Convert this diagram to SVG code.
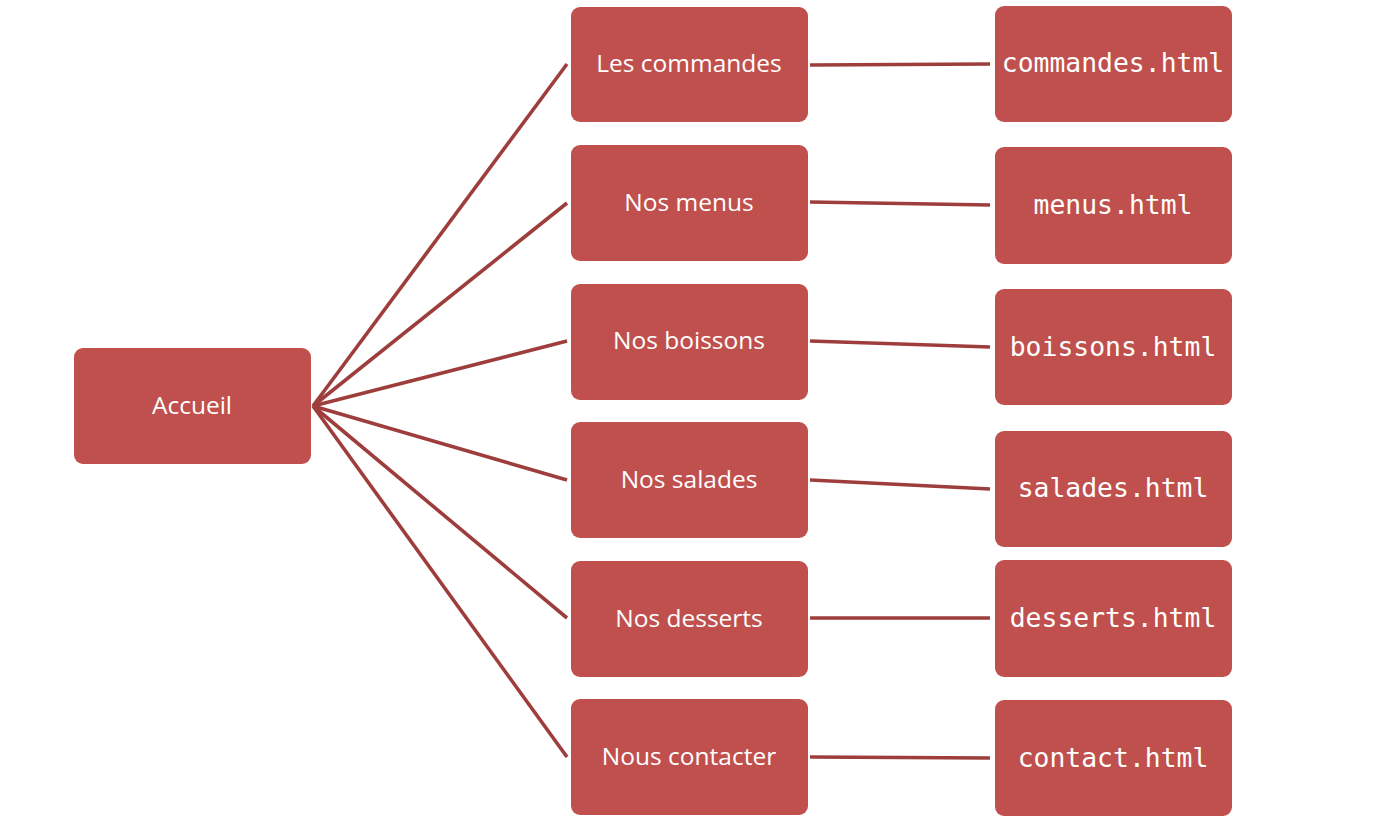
<svg xmlns="http://www.w3.org/2000/svg" width="1378" height="821" viewBox="0 0 1378 821">
<style>
.box{fill:#C0504D;}
.lbl{fill:#fff;font-family:"Open Sans","Noto Sans",sans-serif;font-size:24.5px;text-anchor:middle;dominant-baseline:central;}
.code{fill:#fff;font-family:"DejaVu Sans Mono","Liberation Mono",monospace;font-size:26.4px;text-anchor:middle;dominant-baseline:central;}
.conn line{stroke:#9E3E3C;stroke-width:3.6;stroke-linecap:butt;}
</style>
<rect width="1378" height="821" fill="#fff"/>
<g class="conn" id="connectors">
<line x1="313" y1="406" x2="567" y2="64"/>
<line x1="313" y1="406" x2="567" y2="203"/>
<line x1="313" y1="406" x2="567" y2="341"/>
<line x1="313" y1="406" x2="567" y2="480"/>
<line x1="313" y1="406" x2="567" y2="618"/>
<line x1="313" y1="406" x2="567" y2="757"/>
<line x1="810" y1="65" x2="990" y2="64"/>
<line x1="810" y1="202" x2="990" y2="205"/>
<line x1="810" y1="341" x2="990" y2="347"/>
<line x1="810" y1="480" x2="990" y2="489"/>
<line x1="810" y1="618" x2="990" y2="618"/>
<line x1="810" y1="757" x2="990" y2="758"/>
</g>
<g id="accueil"><rect class="box" x="74" y="348" width="237" height="116" rx="9"/><text class="lbl" x="192" y="404">Accueil</text></g>
<g id="les-commandes"><rect class="box" x="571" y="7" width="237" height="115" rx="9"/><text class="lbl" x="689" y="62">Les commandes</text></g>
<g id="nos-menus"><rect class="box" x="571" y="145" width="237" height="116" rx="9"/><text class="lbl" x="689" y="201">Nos menus</text></g>
<g id="nos-boissons"><rect class="box" x="571" y="284" width="237" height="116" rx="9"/><text class="lbl" x="689" y="339">Nos boissons</text></g>
<g id="nos-salades"><rect class="box" x="571" y="422" width="237" height="116" rx="9"/><text class="lbl" x="689" y="478">Nos salades</text></g>
<g id="nos-desserts"><rect class="box" x="571" y="561" width="237" height="116" rx="9"/><text class="lbl" x="689" y="617">Nos desserts</text></g>
<g id="nous-contacter"><rect class="box" x="571" y="699" width="237" height="116" rx="9"/><text class="lbl" x="689" y="755">Nous contacter</text></g>
<g id="commandes-html"><rect class="box" x="995" y="6" width="237" height="116" rx="9"/><text class="code" x="1113" y="62">commandes.html</text></g>
<g id="menus-html"><rect class="box" x="995" y="147" width="237" height="117" rx="9"/><text class="code" x="1113" y="204">menus.html</text></g>
<g id="boissons-html"><rect class="box" x="995" y="289" width="237" height="116" rx="9"/><text class="code" x="1113" y="346">boissons.html</text></g>
<g id="salades-html"><rect class="box" x="995" y="431" width="237" height="116" rx="9"/><text class="code" x="1113" y="487">salades.html</text></g>
<g id="desserts-html"><rect class="box" x="995" y="560" width="237" height="117" rx="9"/><text class="code" x="1113" y="617">desserts.html</text></g>
<g id="contact-html"><rect class="box" x="995" y="700" width="237" height="116" rx="9"/><text class="code" x="1113" y="757">contact.html</text></g>
</svg>
